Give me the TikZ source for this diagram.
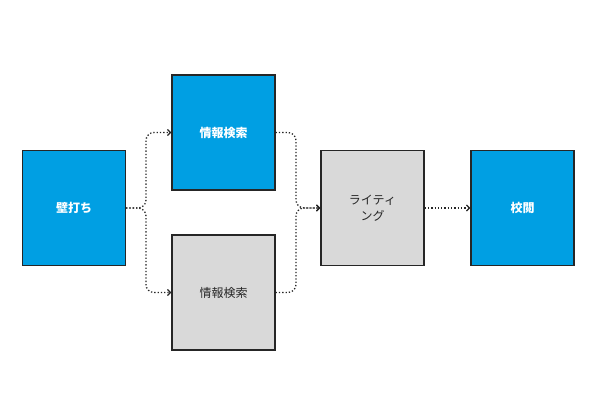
\documentclass[tikz,border=0pt]{standalone}
\usepackage{fontspec}
\setmainfont{Noto Sans CJK JP}
\usetikzlibrary{arrows.meta}
\definecolor{bl}{HTML}{009FE3}
\definecolor{gr}{HTML}{D9D9D9}
\begin{document}
\begin{tikzpicture}[x=1pt,y=-1pt,
 box/.style={draw=black!85,line width=1.2pt,minimum width=103pt,minimum height=115pt,inner sep=0pt,align=center,font=\fontsize{12}{16}\selectfont},
 blue/.style={box,fill=bl,text=white,font=\fontsize{12}{16}\selectfont\bfseries},
 grey/.style={box,fill=gr,text=black!85},
 con/.style={line width=1.3pt,dotted,black!85,rounded corners=8pt,-{Straight Barb[length=3pt,width=6pt]}}]
\useasboundingbox (0,0) rectangle (600,400);
\node[blue] (a) at (74,208) {壁打ち};
\node[blue] (b) at (223.5,132.5) {情報検索};
\node[grey] (c) at (223.5,292.5) {情報検索};
\node[grey] (d) at (372.5,208) {ライティ\\ング};
\node[blue] (e) at (522.5,208) {校閲};
\draw[con] (a.east) -| (146,132.5) -- (b.west);
\draw[con] (a.east) -| (146,292.5) -- (c.west);
\draw[con] (b.east) -| (296,208) -- (d.west);
\draw[con] (c.east) -| (296,208) -- (d.west);
\draw[con] (d.east) -- (e.west);
\end{tikzpicture}
\end{document}
